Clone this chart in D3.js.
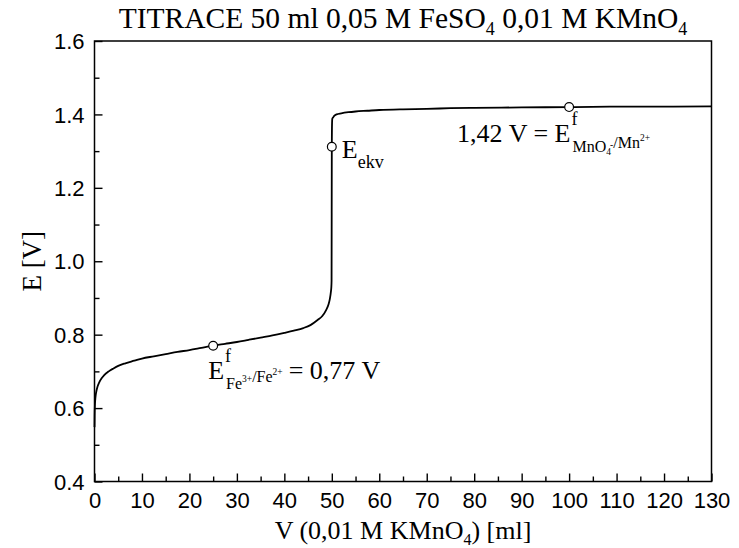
<!DOCTYPE html>
<html><head><meta charset="utf-8">
<script src="https://cdn.jsdelivr.net/npm/d3@7"></script>
<style>
html,body{margin:0;padding:0;background:#fff;}
svg{display:block;}
</style></head>
<body>
<svg id="chart" width="739" height="548"></svg>
<script>
// ---- data ----
const volume = [0, 0.01, 0.03, 0.1, 0.2, 0.35, 0.6, 1, 1.5, 2, 3, 4, 5, 6.5, 8.4, 10, 12.5, 15, 17.5, 20, 22.5, 25, 27.5, 30, 32.5, 35, 37.5, 40, 42, 44, 45.5, 47, 48, 48.8, 49.3, 49.6, 49.8, 49.9, 49.95, 50, 50.05, 50.1, 50.3, 50.5, 51, 52, 53.5, 55, 57.5, 60, 65, 70, 75, 80, 90, 100, 110, 120, 130];
const potential = [0.548, 0.552, 0.580, 0.611, 0.629, 0.643, 0.657, 0.670, 0.681, 0.689, 0.700, 0.708, 0.715, 0.722, 0.729, 0.735, 0.741, 0.747, 0.753, 0.758, 0.764, 0.770, 0.775, 0.780, 0.786, 0.792, 0.798, 0.805, 0.811, 0.818, 0.826, 0.840, 0.851, 0.867, 0.882, 0.898, 0.916, 0.929, 0.947, 1.312, 1.376, 1.388, 1.392, 1.396, 1.400, 1.403, 1.406, 1.408, 1.410, 1.412, 1.414, 1.415, 1.417, 1.418, 1.419, 1.420, 1.421, 1.421, 1.422];
const markerV = [25, 50, 100];
const markerE = [0.77, 1.312, 1.42];
const xMajorTicks = [0, 10, 20, 30, 40, 50, 60, 70, 80, 90, 100, 110, 120, 130];
const xMinorTicks = [5, 15, 25, 35, 45, 55, 65, 75, 85, 95, 105, 115, 125];
const yMajorTicks = [0.4, 0.6, 0.8, 1.0, 1.2, 1.4, 1.6];
const yMinorTicks = [0.5, 0.7, 0.9, 1.1, 1.3, 1.5];
const yTickLabels = ["0.4", "0.6", "0.8", "1.0", "1.2", "1.4", "1.6"];

// ---- layout ----
const svg = d3.select("#chart");
const L = 94.5, R = 711.5, T = 41, B = 481.5;
const x = d3.scaleLinear().domain([0, 130]).range([L, R]);
const y = d3.scaleLinear().domain([0.4, 1.6]).range([B, T]);
const serif = "'Liberation Serif','Times New Roman',serif";
const sans = "'Liberation Sans',Arial,sans-serif";

// axes (inward ticks)
const gx = svg.append("g").attr("transform", `translate(0,${B})`)
  .call(d3.axisBottom(x).tickValues(xMajorTicks).tickSize(-8).tickPadding(11).tickFormat(d3.format("d")));
svg.append("g").attr("transform", `translate(0,${B})`)
  .call(d3.axisBottom(x).tickValues(xMinorTicks).tickSize(-5).tickFormat(""));
const gy = svg.append("g").attr("transform", `translate(${L},0)`)
  .call(d3.axisLeft(y).tickValues(yMajorTicks).tickSize(-8).tickPadding(10).tickFormat((d, i) => yTickLabels[i]));
svg.append("g").attr("transform", `translate(${L},0)`)
  .call(d3.axisLeft(y).tickValues(yMinorTicks).tickSize(-5).tickFormat(""));
svg.selectAll(".domain").remove();
svg.selectAll(".tick line").attr("stroke", "#000").attr("stroke-width", 1.4);
svg.selectAll(".tick text").attr("font-family", sans).attr("font-size", 22).attr("fill", "#000");
gy.selectAll(".tick text").attr("dy", "0.35em");

// frame
svg.append("rect").attr("x", L).attr("y", T).attr("width", R - L).attr("height", B - T)
  .attr("fill", "none").attr("stroke", "#000").attr("stroke-width", 1.5);

// curve
const pts = volume.map((v, i) => [v, potential[i]]);
svg.append("path").datum(pts)
  .attr("fill", "none").attr("stroke", "#000").attr("stroke-width", 1.8)
  .attr("d", d3.line().x(d => x(d[0])).y(d => y(d[1])).curve(d3.curveMonotoneX));

// markers
svg.selectAll("circle.m").data(markerV).join("circle").attr("class", "m")
  .attr("cx", d => x(d)).attr("cy", (d, i) => y(markerE[i])).attr("r", 4.4)
  .attr("fill", "#fff").attr("stroke", "#000").attr("stroke-width", 1.2);

// ---- texts ----
// title
const title = svg.append("text").attr("x", (L + R) / 2).attr("y", 28)
  .attr("text-anchor", "middle").attr("font-family", serif).attr("font-size", 29.5).attr("fill", "#000");
title.append("tspan").text("TITRACE 50 ml 0,05 M FeSO");
title.append("tspan").attr("font-size", 18).attr("dy", 7).text("4");
title.append("tspan").attr("dy", -7).text(" 0,01 M KMnO");
title.append("tspan").attr("font-size", 18).attr("dy", 7).text("4");

// x axis title
const xt = svg.append("text").attr("x", (L + R) / 2).attr("y", 539)
  .attr("text-anchor", "middle").attr("font-family", serif).attr("font-size", 26).attr("fill", "#000");
xt.append("tspan").text("V (0,01 M KMnO");
xt.append("tspan").attr("font-size", 16).attr("dy", 6).text("4");
xt.append("tspan").attr("dy", -6).text(") [ml]");

// y axis title
svg.append("text").attr("transform", `translate(41,${(T + B) / 2}) rotate(-90)`)
  .attr("text-anchor", "middle").attr("font-family", serif).attr("font-size", 27).attr("fill", "#000")
  .text("E [V]");

// E_ekv annotation
const ekv = svg.append("text").attr("x", x(50) + 10).attr("y", y(1.312) + 11)
  .attr("font-family", serif).attr("font-size", 26).attr("fill", "#000");
ekv.append("tspan").text("E");
ekv.append("tspan").attr("font-size", 18).attr("dy", 10).text("ekv");

// helper: E with superscript f and compound subscript
function fLabel(px, py, subParts) {
  const g = svg.append("g");
  const e = g.append("text").attr("x", px).attr("y", py).attr("font-family", serif)
    .attr("font-size", 26).attr("fill", "#000").text("E");
  const w = e.node().getComputedTextLength();
  g.append("text").attr("x", px + w + 1).attr("y", py - 17).attr("font-family", serif)
    .attr("font-size", 18).attr("fill", "#000").text("f");
  const s = g.append("text").attr("x", px + w + 2).attr("y", py + 10).attr("font-family", serif)
    .attr("font-size", 16).attr("fill", "#000");
  subParts.forEach(p => {
    if (p.sup) {
      s.append("tspan").attr("font-size", 9.5).attr("dy", -7).attr("dx", p.dx || 0).text(p.t);
      s.append("tspan").attr("dy", 7).text("");
    } else if (p.sub) {
      s.append("tspan").attr("font-size", 9.5).attr("dy", 3).text(p.t);
      s.append("tspan").attr("dy", -3).text("");
    } else s.append("tspan").text(p.t);
  });
  return { right: px + w + 2 + s.node().getComputedTextLength() };
}

// Fe annotation
const fe = fLabel(x(25) - 5, y(0.77) + 33, [
  { t: "Fe" }, { t: "3+", sup: true }, { t: "/Fe" }, { t: "2+", sup: true }]);
svg.append("text").attr("x", fe.right + 6).attr("y", y(0.77) + 33)
  .attr("font-family", serif).attr("font-size", 26).attr("fill", "#000").text("= 0,77 V");

// MnO4 annotation
const mnLeft = svg.append("text").attr("x", x(100) - 112).attr("y", y(1.42) + 35)
  .attr("font-family", serif).attr("font-size", 26).attr("fill", "#000").text("1,42 V =\u00a0");
const mw = mnLeft.node().getComputedTextLength();
fLabel(x(100) - 112 + mw, y(1.42) + 35, [
  { t: "MnO" }, { t: "4", sub: true }, { t: "-", sup: true, dx: -1 }, { t: "/Mn" }, { t: "2+", sup: true }]);
</script>
</body></html>
